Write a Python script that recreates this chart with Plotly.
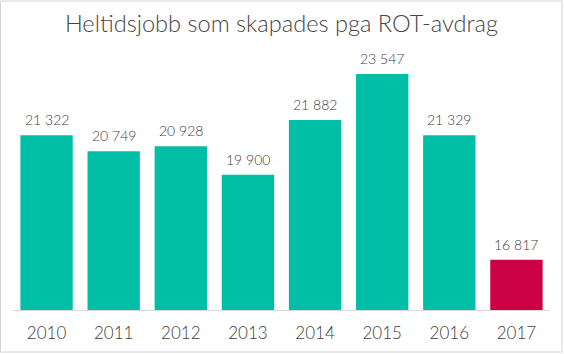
import plotly.graph_objects as go

years = ["2010", "2011", "2012", "2013", "2014", "2015", "2016", "2017"]
jobs = [21322, 20749, 20928, 19900, 21882, 23547, 21329, 16817]
labels = ["21 322", "20 749", "20 928", "19 900", "21 882", "23 547", "21 329", "16 817"]
title_text = "Heltidsjobb som skapades pga ROT-avdrag"

TEAL = "#00BFA6"
RED = "#CC0044"
colors = [TEAL] * (len(years) - 1) + [RED]

W, H = 564, 354
L, R, T, B = 13, 14, 50, 44
pw, ph = W - L - R, H - T - B

def px_x(p):
    return (p - L) / pw

def px_y(p):
    return (H - B - p) / ph

FONT = "Lato Light, Lato Hairline, Lato"
pos = list(range(len(years)))

fig = go.Figure(
    go.Bar(
        x=pos,
        y=jobs,
        width=0.78,
        marker=dict(color=colors, line=dict(width=0)),
        hoverinfo="skip",
    )
)

for p, v, lab in zip(pos, jobs, labels):
    fig.add_annotation(
        x=p, y=v, xref="x", yref="y", text=lab, showarrow=False,
        yanchor="bottom", yshift=5,
        font=dict(family=FONT, size=14, color="#404040"),
    )

fig.add_shape(
    type="rect", xref="paper", yref="paper",
    x0=px_x(0.5), x1=px_x(562), y0=px_y(352), y1=px_y(1),
    line=dict(color="#d4d4d4", width=1), fillcolor="rgba(0,0,0,0)", layer="above",
)

fig.update_layout(
    width=W, height=H,
    margin=dict(l=L, r=R, t=T, b=B, pad=0),
    paper_bgcolor="white", plot_bgcolor="white",
    showlegend=False,
    title=dict(
        text=title_text, x=0.5, xref="paper", xanchor="center",
        y=1 - 24 / H, yref="container", yanchor="middle",
        font=dict(family=FONT, size=23.6, color="#454545"),
    ),
    xaxis=dict(
        range=[-0.5, len(years) - 0.5],
        tickmode="array", tickvals=pos, ticktext=years,
        showline=True, linecolor="#d9d9d9", linewidth=1,
        showgrid=False, zeroline=False, ticks="", ticklabelstandoff=8,
        tickfont=dict(family=FONT, size=17, color="#404040"),
        fixedrange=True,
    ),
    yaxis=dict(
        range=[15000, 15000 + ph * 36.2], visible=False, showgrid=False,
        zeroline=False, fixedrange=True,
    ),
)

fig.write_html("out.html")
